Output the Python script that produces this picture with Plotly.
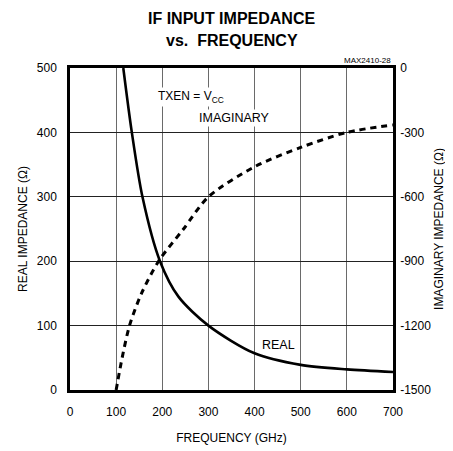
import plotly.graph_objects as go

# real part (ohms) vs frequency
real_freq = [115.5, 134, 157, 195, 235, 300, 400, 500, 600, 700]
real_ohm = [500, 400, 300, 200, 145, 100, 57, 39, 32, 28]

# imaginary part (ohms) vs frequency
imag_freq = [100, 113, 129, 155, 192, 246, 300, 400, 500, 600, 700]
imag_ohm = [-1500, -1350, -1200, -1050, -900, -750, -600, -460, -370, -300, -265]

freq_ticks = [0, 100, 200, 300, 400, 500, 600, 700]
real_ticks = [0, 100, 200, 300, 400, 500]
imag_ticks = [-1500, -1200, -900, -600, -300, 0]

FONT = "Liberation Sans, Arial, Helvetica, sans-serif"

fig = go.Figure()
fig.add_trace(go.Scatter(
    x=real_freq, y=real_ohm, mode="lines", name="REAL",
    line=dict(color="black", width=2.6, shape="spline", smoothing=0.8),
))
fig.add_trace(go.Scatter(
    x=imag_freq, y=imag_ohm, mode="lines", name="IMAGINARY", yaxis="y2",
    line=dict(color="black", width=3, dash="6px,5px", shape="spline", smoothing=0.8),
))

frame = dict(showline=True, linecolor="black", linewidth=2.5, zeroline=False,
             ticks="", automargin=False, tickfont=dict(size=12, color="black"))

# the page body adds an 8px margin, so the figure is 8px smaller each way
fig.update_layout(
    width=445, height=443,
    margin=dict(l=62, r=60, t=60, b=61),
    plot_bgcolor="white", paper_bgcolor="white",
    font=dict(family=FONT, color="black"),
    showlegend=False,
    xaxis=dict(
        range=[0, 700], tickvals=freq_ticks, mirror=True,
        showgrid=True, gridcolor="#6a6a6a", gridwidth=1,
        ticklabelstandoff=9,
        title=dict(text="FREQUENCY (GHz)", font=dict(size=12), standoff=16),
        **frame,
    ),
    yaxis=dict(
        range=[0, 500], tickvals=real_ticks,
        showgrid=True, gridcolor="#222222", gridwidth=1,
        ticklabelstandoff=8,
        title=dict(text="REAL IMPEDANCE (Ω)", font=dict(size=12), standoff=7),
        **frame,
    ),
    yaxis2=dict(
        range=[-1500, 0], tickvals=imag_ticks,
        ticktext=[str(v) for v in imag_ticks],
        overlaying="y", side="right", showgrid=False,
        ticklabelstandoff=2,
        title=dict(text="IMAGINARY IMPEDANCE (Ω)", font=dict(size=12), standoff=5),
        **frame,
    ),
    annotations=[
        dict(text="<b>IF INPUT IMPEDANCE</b>", x=0.5, y=1.155, xref="paper", yref="paper",
             yanchor="middle", showarrow=False, font=dict(size=16)),
        dict(text="<b>vs.  FREQUENCY</b>", x=0.5, y=1.084, xref="paper", yref="paper",
             yanchor="middle", showarrow=False, font=dict(size=16)),
        dict(text="TXEN = V<sub>CC</sub>", x=262, y=455, xref="x", yref="y",
             showarrow=False, bgcolor="white", font=dict(size=12)),
        dict(text="IMAGINARY", x=356, y=422, xref="x", yref="y",
             showarrow=False, bgcolor="white", font=dict(size=12.5)),
        dict(text="REAL", x=451, y=70, xref="x", yref="y",
             showarrow=False, bgcolor="white", font=dict(size=12.5)),
        dict(text="MAX2410-28", x=1.0, y=1.0, xref="paper", yref="paper",
             xanchor="right", yanchor="bottom", yshift=1, showarrow=False,
             font=dict(size=8)),
    ],
)

fig.write_html("out.html")
